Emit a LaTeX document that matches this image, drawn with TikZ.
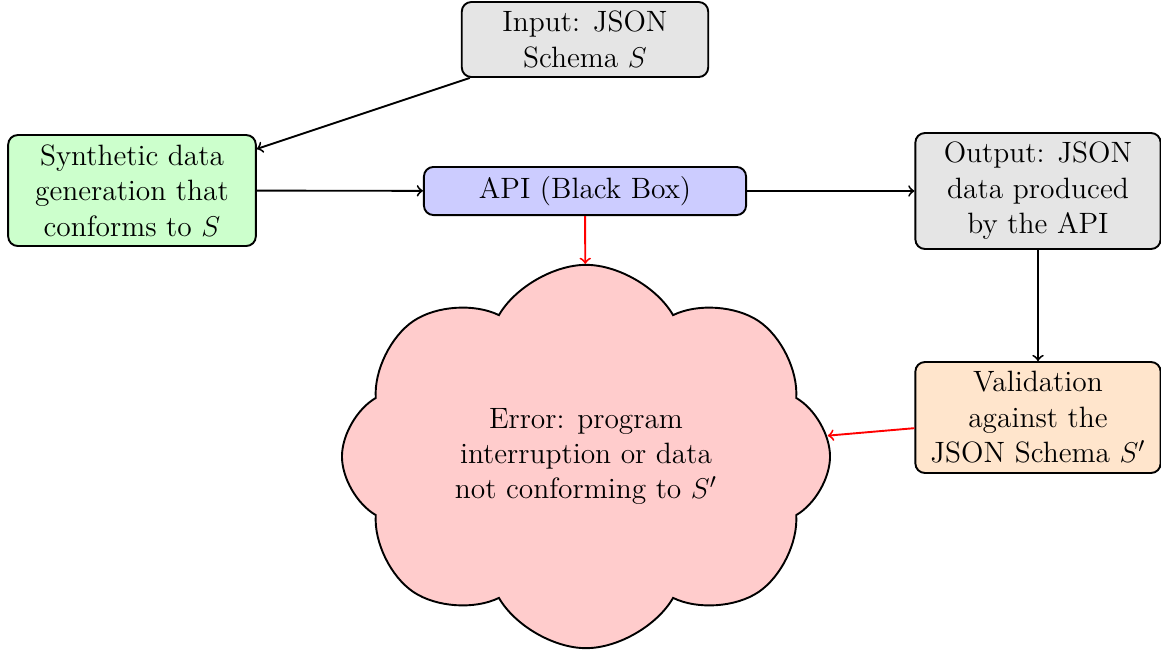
\documentclass[tikz,border=0pt]{standalone}
\usetikzlibrary{shapes.symbols}
\begin{document}
\begin{tikzpicture}[x=0.42pt,y=-0.42pt,
  every node/.style={font=\fontsize{12.35}{14.9}\selectfont},
  box/.style={draw,thick,rounded corners=4pt,align=center,inner sep=0pt},
  conn/.style={->,thick},
  errconn/.style={->,thick,red}]
\useasboundingbox (0,0) rectangle (1161,652);
\node[box,fill=gray!20,minimum width=103.5pt,minimum height=31.5pt] (input) at (585,39.5) {Input: JSON\\Schema $S$};
\node[box,fill=green!20,minimum width=104pt,minimum height=46.6pt] (synth) at (132,190.5) {Synthetic data\\generation that\\conforms to $S$};
\node[box,fill=blue!20,minimum width=135.3pt,minimum height=20.2pt] (api) at (585,191) {API (Black Box)};
\node[box,fill=gray!20,minimum width=103pt,minimum height=48.7pt] (output) at (1038,191) {Output: JSON\\data produced\\by the API};
\node[box,fill=orange!20,minimum width=103pt,minimum height=46.6pt] (valid) at (1038,417.5) {Validation\\against the\\JSON Schema $S'$};
\node[draw,thick,fill=red!20,cloud,cloud puffs=8,cloud puff arc=120,cloud ignores aspect,align=center,inner sep=0pt,minimum width=205pt,minimum height=161pt] (err) at (586,456.5) {Error: program\\interruption or data\\not conforming to $S'$};
\draw[conn] (input) -- (synth);
\draw[conn] (synth) -- (api);
\draw[conn] (api) -- (output);
\draw[conn] (output) -- (valid);
\draw[errconn] (api) -- (err);
\draw[errconn] (valid) -- (err);
\end{tikzpicture}
\end{document}
